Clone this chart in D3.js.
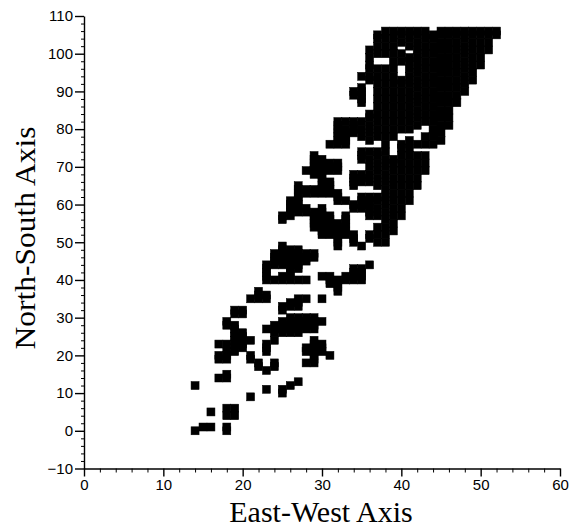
<!DOCTYPE html>
<html>
<head>
<meta charset="utf-8">
<script src="https://d3js.org/d3.v7.min.js"></script>
<style>
  body { margin: 0; background: #fff; }
  svg { display: block; }
  .tick text { font-family: "Liberation Sans", Arial, sans-serif; font-size: 15px; fill: #000; }
  .title { font-family: "Liberation Serif", "Times New Roman", serif; font-size: 30px; fill: #000; }
</style>
</head>
<body>
<svg id="chart"></svg>
<script>
var xTicks = [0, 10, 20, 30, 40, 50, 60];
var yTicks = [-10, 0, 10, 20, 30, 40, 50, 60, 70, 80, 90, 100, 110];
var xMinor = [2, 4, 6, 8, 12, 14, 16, 18, 22, 24, 26, 28, 32, 34, 36, 38, 42, 44, 46, 48, 52, 54, 56, 58];
var yMinor = [-8, -6, -4, -2, 2, 4, 6, 8, 12, 14, 16, 18, 22, 24, 26, 28, 32, 34, 36, 38, 42, 44, 46, 48, 52, 54, 56, 58, 62, 64, 66, 68, 72, 74, 76, 78, 82, 84, 86, 88, 92, 94, 96, 98, 102, 104, 106, 108];

// east-west position of each column, and the north-south readings found in it
var eastWest = [14, 15, 16, 17, 18, 19, 20, 21, 22, 23, 24, 25, 26, 27, 28, 29, 30, 31, 32, 33, 34, 35, 36, 37, 38, 39, 40, 41, 42, 43, 44, 45, 46, 47, 48, 49, 50, 51, 52];
var northSouth = [
  [0, 12],
  [1],
  [1, 5],
  [14, 19, 20, 23],
  [0, 1, 4, 6, 14, 15, 19, 20, 21, 23, 28, 29],
  [4, 6, 21, 22, 23, 24, 25, 26, 27, 28, 31, 32],
  [22, 23, 24, 25, 26, 31, 32],
  [9, 19, 20, 24, 35],
  [17, 18, 35, 36, 37],
  [11, 16, 21, 22, 23, 27, 35, 36, 40, 41, 42, 43, 44],
  [17, 18, 24, 26, 27, 28, 40, 44, 45, 46, 47],
  [10, 11, 26, 27, 28, 29, 32, 33, 40, 41, 44, 45, 46, 47, 48, 49, 56, 57],
  [12, 26, 27, 28, 29, 30, 33, 34, 40, 41, 42, 43, 44, 45, 46, 47, 48, 57, 58, 59, 60, 61],
  [13, 26, 27, 28, 29, 30, 33, 34, 35, 40, 43, 44, 45, 46, 47, 48, 58, 59, 60, 61, 62, 63, 64, 65],
  [18, 21, 22, 27, 28, 29, 30, 35, 40, 45, 46, 47, 58, 59, 63, 64, 69],
  [18, 19, 20, 21, 22, 23, 24, 27, 28, 29, 30, 46, 47, 54, 55, 56, 57, 58, 63, 64, 68, 69, 70, 71, 72, 73],
  [21, 22, 23, 29, 35, 41, 52, 53, 54, 55, 56, 57, 58, 59, 63, 64, 65, 66, 67, 68, 69, 70, 71, 72],
  [20, 39, 40, 41, 52, 53, 54, 55, 56, 57, 63, 64, 65, 66, 69, 70, 71, 76],
  [37, 38, 39, 40, 49, 50, 51, 52, 53, 54, 55, 61, 62, 63, 69, 70, 71, 76, 77, 78, 79, 80, 81, 82],
  [40, 41, 52, 53, 54, 55, 56, 57, 61, 76, 77, 78, 79, 80, 82],
  [40, 41, 42, 43, 50, 51, 52, 59, 60, 65, 66, 67, 68, 79, 80, 81, 82, 89, 90],
  [40, 41, 42, 43, 49, 59, 60, 61, 62, 66, 67, 68, 72, 73, 74, 78, 80, 82, 87, 88, 89, 90, 91, 94],
  [44, 51, 52, 57, 58, 59, 60, 61, 62, 66, 68, 70, 72, 74, 77, 79, 81, 83, 84, 93, 94, 96, 97, 99, 101],
  [50, 52, 54, 57, 59, 61, 62, 65, 67, 69, 71, 73, 74, 78, 80, 82, 84, 86, 88, 90, 92, 94, 96, 100, 102, 104, 105],
  [50, 52, 54, 56, 58, 60, 62, 64, 66, 68, 70, 72, 74, 76, 78, 80, 82, 84, 86, 88, 90, 92, 94, 96, 100, 102, 104, 106],
  [53, 55, 57, 59, 61, 63, 65, 67, 69, 71, 72, 78, 80, 82, 84, 86, 88, 90, 92, 94, 96, 98, 100, 102, 104, 106],
  [57, 59, 61, 63, 65, 67, 69, 71, 73, 75, 76, 80, 82, 84, 86, 88, 90, 92, 93, 98, 100, 103, 105, 106],
  [61, 63, 65, 67, 69, 71, 73, 75, 77, 80, 82, 84, 86, 88, 90, 92, 94, 96, 98, 99, 102, 104, 106],
  [65, 67, 69, 71, 73, 76, 81, 83, 85, 87, 89, 91, 93, 95, 97, 99, 101, 103, 105, 106],
  [69, 71, 73, 76, 78, 82, 84, 86, 88, 90, 92, 94, 96, 98, 100, 102, 104, 106],
  [76, 78, 80, 82, 84, 86, 88, 90, 92, 94, 96, 98, 100, 102, 104, 105],
  [77, 79, 81, 83, 85, 87, 89, 91, 93, 95, 97, 99, 101, 103, 105, 106],
  [81, 83, 85, 87, 89, 91, 93, 95, 97, 99, 101, 103, 105, 106],
  [87, 89, 91, 93, 95, 97, 99, 101, 103, 105, 106],
  [90, 92, 94, 96, 98, 100, 102, 104, 106],
  [93, 95, 97, 99, 101, 103, 105, 106],
  [97, 99, 101, 103, 105, 106],
  [101, 103, 105, 106],
  [105, 106]
];

var svg = d3.select("#chart")
    .attr("width", 574)
    .attr("height", 530);

var x = d3.scaleLinear()
    .domain([0, 60])
    .range([84, 560]);
var y = d3.scaleLinear()
    .domain([-10, 110])
    .range([468.5, 16]);

// major ticks carry the labels, minor ticks are just short marks
svg.append("g")
    .attr("transform", "translate(0,468.5)")
    .call(d3.axisBottom(x).tickValues(xMinor).tickSize(4).tickFormat(""))
    .call(function(g) { g.select(".domain").remove(); });
svg.append("g")
    .attr("transform", "translate(84,0)")
    .call(d3.axisLeft(y).tickValues(yMinor).tickSize(3).tickFormat(""))
    .call(function(g) { g.select(".domain").remove(); });
svg.append("g")
    .attr("transform", "translate(0,468.5)")
    .call(d3.axisBottom(x).tickValues(xTicks).tickSize(8).tickPadding(3).tickSizeOuter(0))
    .selectAll("path, line").attr("stroke-width", 1.4);
svg.append("g")
    .attr("transform", "translate(84,0)")
    .call(d3.axisLeft(y).tickValues(yTicks).tickSize(9).tickPadding(2).tickSizeOuter(0))
    .selectAll("path, line").attr("stroke-width", 1.4);

var points = [];
eastWest.forEach(function(e, i) {
    northSouth[i].forEach(function(n) {
        points.push({ e: e, n: n });
    });
});

svg.append("g")
    .attr("stroke", "#000")
    .attr("stroke-width", 0.5)
    .selectAll("rect")
    .data(points)
    .enter()
    .append("rect")
        .attr("x", function(d) { return x(d.e) - 4; })
        .attr("y", function(d) { return y(d.n) - 4; })
        .attr("width", 8)
        .attr("height", 8)
        .style("fill", "#000");

svg.append("text")
    .attr("class", "title")
    .attr("x", 321)
    .attr("y", 522)
    .attr("text-anchor", "middle")
    .text("East-West Axis");

svg.append("text")
    .attr("class", "title")
    .attr("transform", "translate(35,238) rotate(-90) scale(1.05,1)")
    .attr("text-anchor", "middle")
    .text("North-South Axis");
</script>
</body>
</html>
